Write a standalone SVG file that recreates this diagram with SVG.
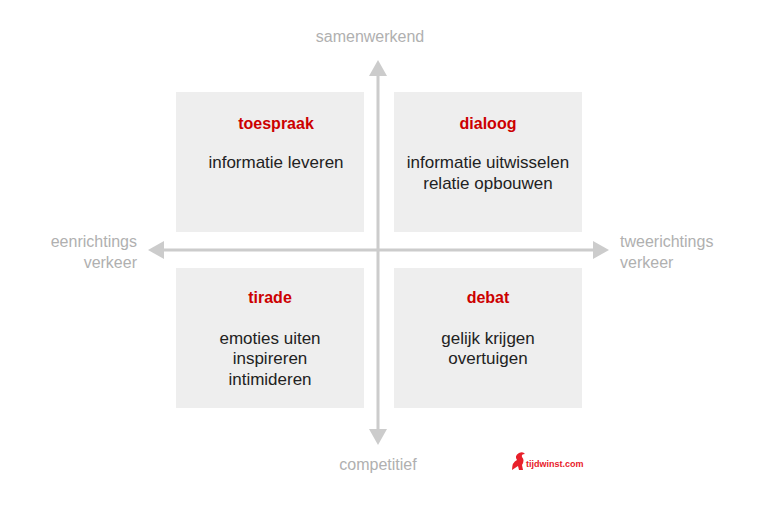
<svg xmlns="http://www.w3.org/2000/svg" width="768" height="512" viewBox="0 0 768 512">
<style>
.box{fill:#eeeeee}
.t{font-family:"Liberation Sans",Arial,sans-serif;font-weight:bold;font-size:16px;fill:#cc0000;text-anchor:middle}
.b{font-family:"Liberation Sans",Arial,sans-serif;font-size:17px;fill:#222;text-anchor:middle}
.ax{font-family:"Liberation Sans",Arial,sans-serif;font-size:16px;fill:#b0b0b0}
.axl{stroke:#cccccc;stroke-width:3;fill:none}
.ah{fill:#cccccc}
</style>
<rect width="768" height="512" fill="#fff"/>
<g id="toespraak"><rect class="box" x="176" y="92" width="188" height="140"/><text class="t" x="276" y="129">toespraak</text><text class="b" x="276" y="168">informatie leveren</text></g>
<g id="dialoog"><rect class="box" x="394" y="92" width="188" height="140"/><text class="t" x="488" y="129">dialoog</text><text class="b" x="488" y="168">informatie uitwisselen</text><text class="b" x="488" y="189">relatie opbouwen</text></g>
<g id="tirade"><rect class="box" x="176" y="268" width="188" height="140"/><text class="t" x="270" y="303">tirade</text><text class="b" x="270" y="344">emoties uiten</text><text class="b" x="270" y="364">inspireren</text><text class="b" x="270" y="385">intimideren</text></g>
<g id="debat"><rect class="box" x="394" y="268" width="188" height="140"/><text class="t" x="488" y="303">debat</text><text class="b" x="488" y="344">gelijk krijgen</text><text class="b" x="488" y="364">overtuigen</text></g>
<g id="connectors">
<line class="axl" x1="378" y1="72" x2="378" y2="432"/>
<polygon class="ah" points="378,60 369,76 387,76"/>
<polygon class="ah" points="378,445 369,429 387,429"/>
<line class="axl" x1="160" y1="250" x2="596" y2="250"/>
<polygon class="ah" points="148,250 164,241 164,259"/>
<polygon class="ah" points="609,250 593,241 593,259"/>
</g>
<g id="labels">
<text class="ax" x="370" y="42" text-anchor="middle">samenwerkend</text>
<text class="ax" x="378" y="470" text-anchor="middle">competitief</text>
<text class="ax" x="137" y="247" text-anchor="end">eenrichtings</text>
<text class="ax" x="137" y="268" text-anchor="end">verkeer</text>
<text class="ax" x="620" y="247">tweerichtings</text>
<text class="ax" x="620" y="268">verkeer</text>
</g>
<g id="logo">
<path d="M512 470 q0-8 5-10 q-3-4 2-7 q4-2 6 1 q-4 0-3 3 q3 3 0 8 l1 5 h-4 l-1-4 z" fill="#e8202a"/>
<text x="526" y="467" font-family="'Liberation Sans',Arial,sans-serif" font-weight="bold" font-size="9" fill="#e8202a">tijdwinst.com</text>
</g>
</svg>
